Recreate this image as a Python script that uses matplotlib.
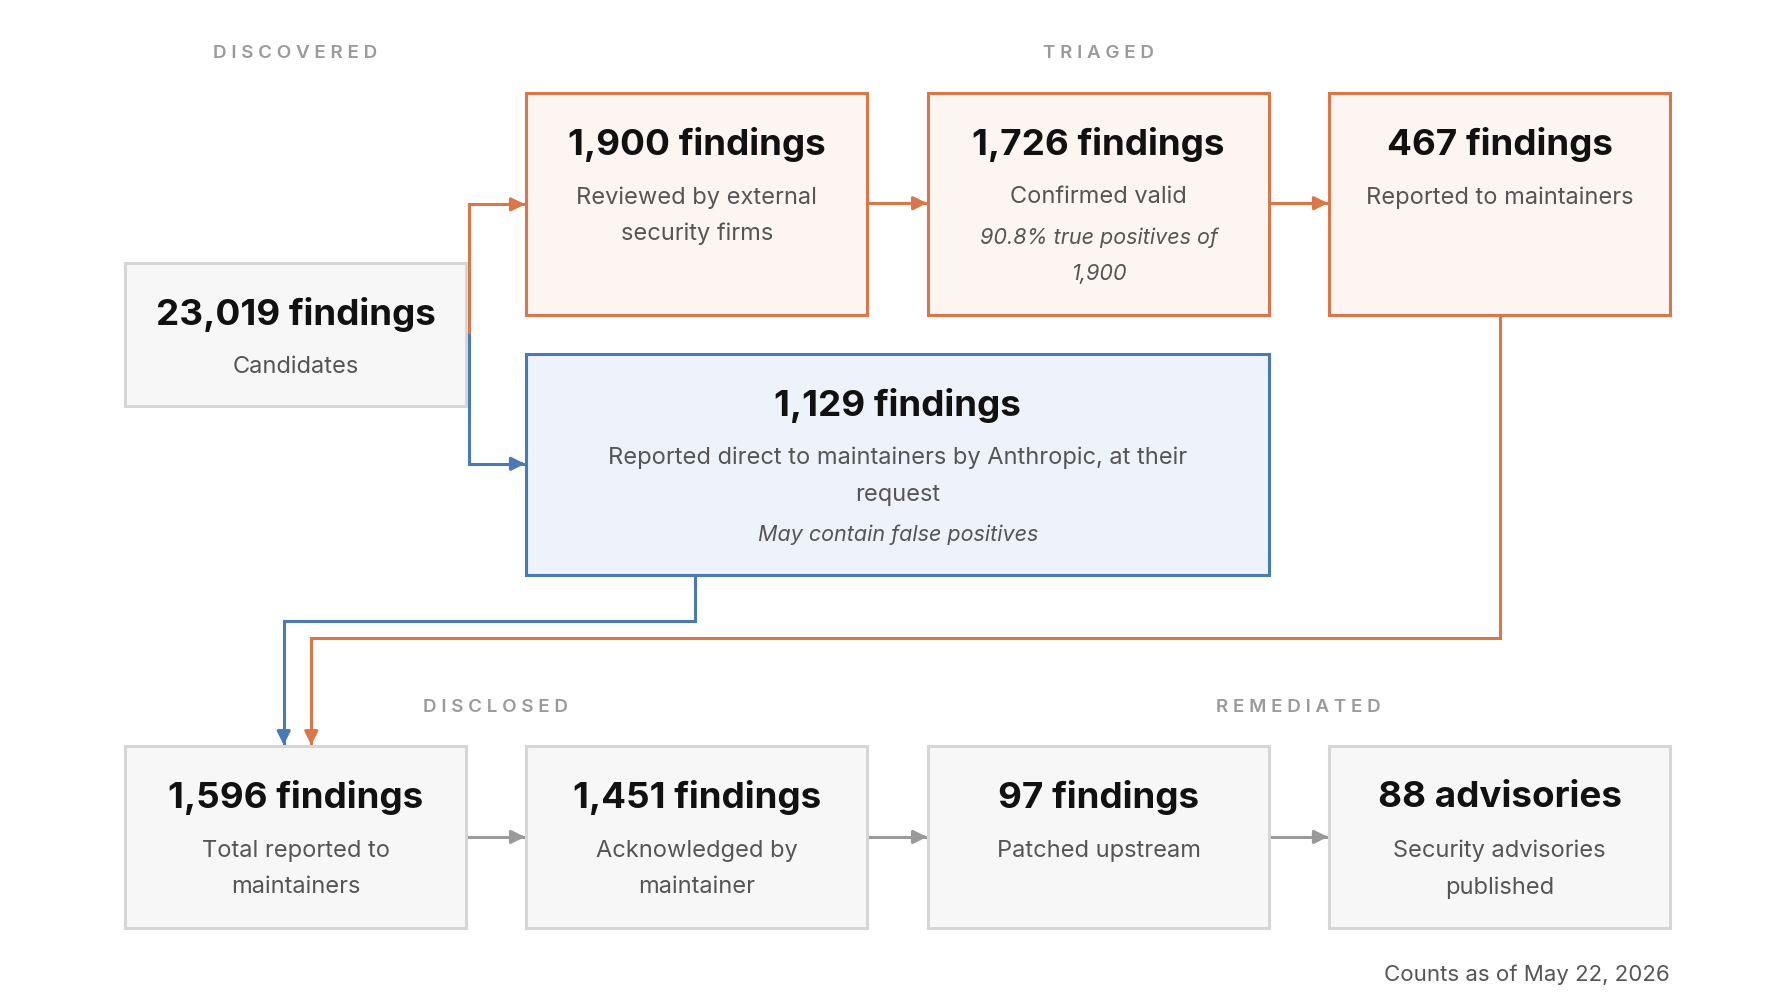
import matplotlib.pyplot as plt
from matplotlib.patches import Rectangle

plt.rcParams['font.family'] = ['Inter', 'DejaVu Sans']

# box data: (title, subtitle lines, italic lines)
top_titles = ['1,900 findings', '1,726 findings', '467 findings']
top_subs = [['Reviewed by external', 'security firms'], ['Confirmed valid'], ['Reported to maintainers']]
top_notes = [[], ['90.8% true positives of', '1,900'], []]
cand_title = '23,019 findings'
cand_sub = ['Candidates']
blue_title = '1,129 findings'
blue_sub = ['Reported direct to maintainers by Anthropic, at their', 'request']
blue_note = ['May contain false positives']
bot_titles = ['1,596 findings', '1,451 findings', '97 findings', '88 advisories']
bot_subs = [['Total reported to', 'maintainers'], ['Acknowledged by', 'maintainer'],
            ['Patched upstream'], ['Security advisories', 'published']]
stage_labels = ['DISCOVERED', 'TRIAGED', 'DISCLOSED', 'REMEDIATED']
footer = 'Counts as of May 22, 2026'

ORANGE = '#d9774a'
BLUE = '#4a7ab5'
GRAYE = '#d6d6d6'
GRAYA = '#9a9a9a'

fig = plt.figure(figsize=(17.92, 10.08), dpi=100)
ax = fig.add_axes([0, 0, 1, 1])
ax.set_xlim(0, 1560)
ax.set_ylim(878, 0)
ax.axis('off')

cols = [458, 808, 1157]
W = 297


def box(x, y, w, h, fc, ec, title, subs, notes=()):
    ax.add_patch(Rectangle((x, y), w, h, fc=fc, ec=ec, lw=2.2, zorder=2))
    cx = x + w / 2
    ax.text(cx, y + 45, title, ha='center', va='center', fontsize=26.5,
            fontweight='bold', color='#111111', zorder=3)
    yy = y + 91
    for s in subs:
        ax.text(cx, yy, s, ha='center', va='center', fontsize=17, color='#555555', zorder=3)
        yy += 32
    yy += 3
    for s in notes:
        ax.text(cx, yy, s, ha='center', va='center', fontsize=15.5, style='italic',
                color='#555555', zorder=3)
        yy += 32


def path(pts, color):
    xs, ys = zip(*pts)
    ax.plot(xs, ys, color=color, lw=2.2, zorder=1, solid_joinstyle='miter')
    (x0, y0), (x1, y1) = pts[-2], pts[-1]
    ax.annotate('', xy=(x1, y1), xytext=(x0 + (x1 - x0) * 0.9, y0 + (y1 - y0) * 0.9),
                arrowprops=dict(arrowstyle='-|>,head_length=0.8,head_width=0.4',
                                color=color, lw=2.2, shrinkA=0, shrinkB=0), zorder=1)


# stage labels
for lbl, (x, y) in zip(stage_labels, [(257, 47), (956, 47), (431, 616), (1130, 616)]):
    ax.text(x, y, ' '.join(lbl), ha='center', va='center',
            fontsize=13.5, fontweight='semibold', color=GRAYA)

box(109, 229, 297, 125, '#f7f7f7', GRAYE, cand_title, cand_sub)
for i in range(3):
    box(cols[i], 81, W, 193, '#fdf5f1', ORANGE, top_titles[i], top_subs[i], top_notes[i])
box(458, 308, 647, 193, '#eef2fa', BLUE, blue_title, blue_sub, blue_note)
for i in range(4):
    x = [109] + cols
    box(x[i], 650, W, 158, '#f7f7f7', GRAYE, bot_titles[i], bot_subs[i])

# connectors
path([(408, 292), (408, 178), (457, 178)], ORANGE)
path([(408, 292), (408, 404), (457, 404)], BLUE)
path([(756, 177), (807, 177)], ORANGE)
path([(1106, 177), (1156, 177)], ORANGE)
path([(605, 502), (605, 541), (247, 541), (247, 649)], BLUE)
path([(1306, 275), (1306, 556), (271, 556), (271, 649)], ORANGE)
for x0, x1 in [(407, 457), (756, 807), (1106, 1156)]:
    path([(x0, 729), (x1, 729)], GRAYA)

ax.text(1454, 849, footer, ha='right', va='center', fontsize=16, color='#555555')

fig.savefig('out.png', dpi=100, facecolor='white')
